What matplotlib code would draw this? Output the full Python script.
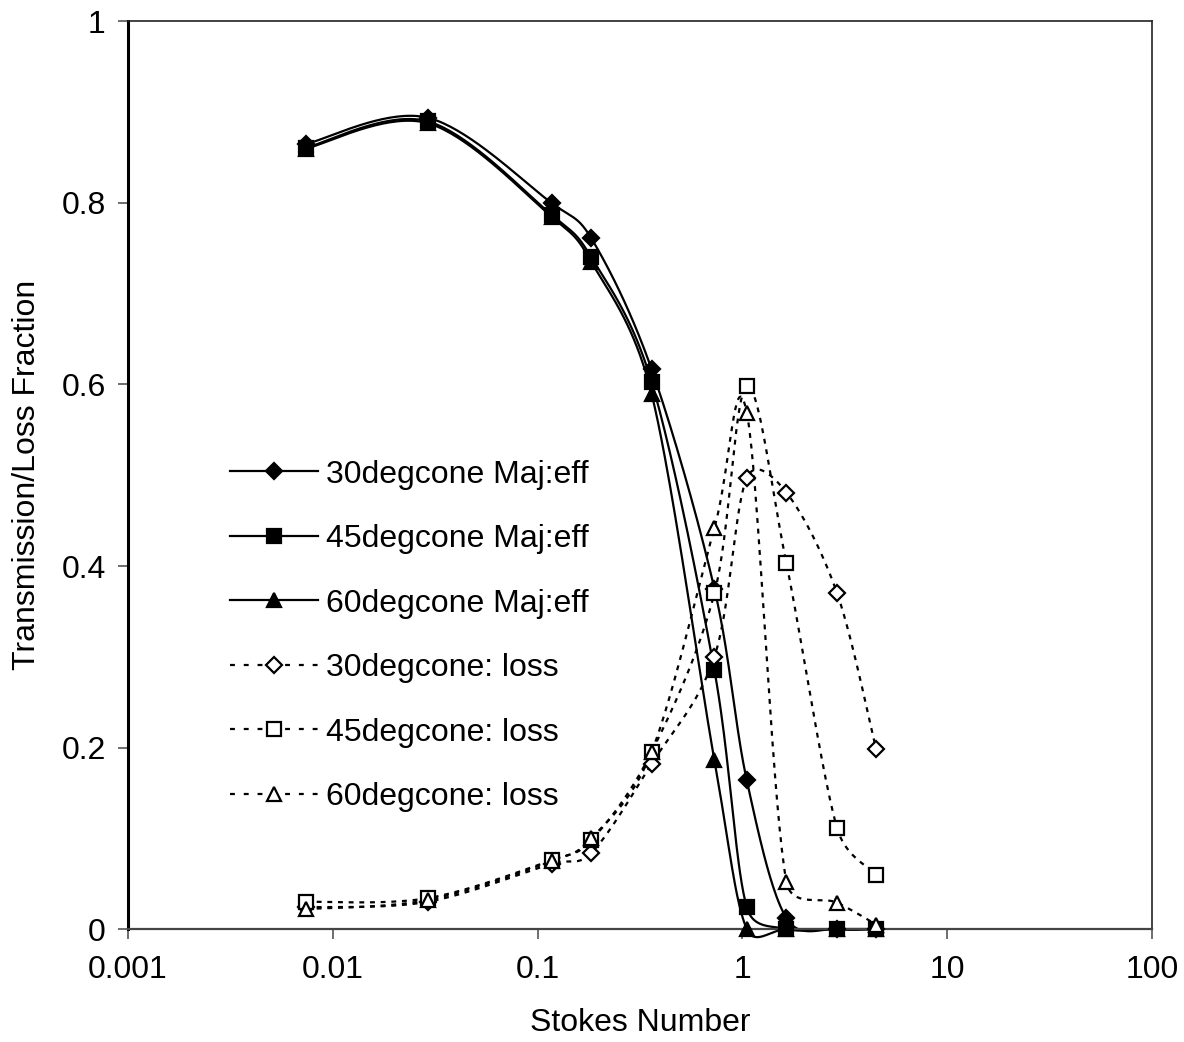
import matplotlib
matplotlib.use('Agg')
import matplotlib.pyplot as plt
import numpy as np
from matplotlib.lines import Line2D

plt.rcParams['font.family'] = ['Liberation Sans', 'DejaVu Sans']

# data
stokes = [0.0074, 0.029, 0.117, 0.183, 0.36, 0.73, 1.05, 1.64, 2.9, 4.5]

eff30 = [0.865, 0.894, 0.800, 0.761, 0.617, 0.375, 0.164, 0.012, 0.0, 0.0]
eff45 = [0.861, 0.890, 0.787, 0.740, 0.603, 0.285, 0.024, 0.0, 0.0, 0.0]
eff60 = [0.860, 0.888, 0.785, 0.735, 0.590, 0.186, 0.0, 0.0, 0.0, 0.0]

loss30 = [0.024, 0.030, 0.072, 0.084, 0.182, 0.300, 0.497, 0.481, 0.370, 0.198]
loss45 = [0.030, 0.034, 0.076, 0.098, 0.195, 0.370, 0.598, 0.403, 0.111, 0.060]
loss60 = [0.022, 0.032, 0.075, 0.100, 0.195, 0.442, 0.569, 0.052, 0.029, 0.005]

labels = ['30degcone Maj:eff', '45degcone Maj:eff', '60degcone Maj:eff',
          '30degcone: loss', '45degcone: loss', '60degcone: loss']

xticks = [0.001, 0.01, 0.1, 1, 10, 100]
xticklabels = ['0.001', '0.01', '0.1', '1', '10', '100']
yticks = [0, 0.2, 0.4, 0.6, 0.8, 1]
yticklabels = ['0', '0.2', '0.4', '0.6', '0.8', '1']


def smooth(x, y, n=40):
    # Excel style smoothed line: Bezier segments, tangent from the neighbours,
    # handle length capped at half the segment (done in screen-like units)
    sx, sy = 205.0, 908.0
    pts = np.column_stack([np.log10(x) * sx, np.asarray(y, float) * sy])
    out = []
    t = np.linspace(0, 1, n)[:, None]
    m = len(pts)
    for i in range(m - 1):
        p0 = pts[max(i - 1, 0)]
        p1 = pts[i]
        p2 = pts[i + 1]
        p3 = pts[min(i + 2, m - 1)]
        d12 = np.hypot(*(p2 - p1))
        d02 = np.hypot(*(p2 - p0))
        d13 = np.hypot(*(p3 - p1))
        f1 = min(1 / 6, d12 / (2 * d02)) if d02 > 0 else 0
        f2 = min(1 / 6, d12 / (2 * d13)) if d13 > 0 else 0
        c1 = p1 + (p2 - p0) * f1
        c2 = p2 - (p3 - p1) * f2
        seg = ((1 - t) ** 3) * p1 + 3 * ((1 - t) ** 2) * t * c1 \
            + 3 * (1 - t) * t ** 2 * c2 + t ** 3 * p2
        out.append(seg if i == 0 else seg[1:])
    seg = np.vstack(out)
    return 10 ** (seg[:, 0] / sx), seg[:, 1] / sy


fig = plt.figure(figsize=(11.84, 10.42), dpi=100)
ax = fig.add_axes([0.1081, 0.1084, 0.8649, 0.871])

series = [eff30, eff45, eff60, loss30, loss45, loss60]
markers = ['D', 's', '^', 'D', 's', '^']
msizes = [8.5, 10, 10, 8.5, 10, 10]
dash = (0, (2.2, 2.6))
handles = []
for k, (ys, mk, ms) in enumerate(zip(series, markers, msizes)):
    ls = '-' if k < 3 else dash
    fc = 'black' if k < 3 else 'white'
    sx, sy = smooth(stokes, ys)
    ax.plot(sx, sy, color='black', lw=1.6, linestyle=ls, zorder=2 + k * 0.1,
            clip_on=False)
    ax.plot(stokes, ys, linestyle='none', marker=mk, ms=ms, mfc=fc,
            mec='black', mew=1.6, zorder=3 + k * 0.1, clip_on=False)
    handles.append(Line2D([], [], color='black', lw=1.6,
                          linestyle='-' if k < 3 else (0, (2.2, 4)),
                          marker=mk, ms=ms, mfc=fc, mec='black', mew=1.6))

ax.set_xscale('log')
ax.set_xlim(0.001, 100)
ax.set_ylim(0, 1)
ax.set_xticks(xticks)
ax.set_xticklabels(xticklabels)
ax.set_yticks(yticks)
ax.set_yticklabels(yticklabels)
ax.xaxis.set_minor_locator(matplotlib.ticker.NullLocator())
ax.tick_params(axis='both', direction='out', length=7, width=1.2,
               labelsize=23, color='#555555')
ax.tick_params(axis='x', pad=12)
ax.tick_params(axis='y', pad=9)

ax.set_xlabel('Stokes Number', fontsize=23, labelpad=16)
ax.set_ylabel('Transmission/Loss Fraction', fontsize=23, labelpad=14)

ax.spines['left'].set_linewidth(2.2)
ax.spines['left'].set_color('black')
ax.spines['bottom'].set_linewidth(1.6)
ax.spines['bottom'].set_color('#444444')
for s in ['top', 'right']:
    ax.spines[s].set_linewidth(1.2)
    ax.spines[s].set_color('#222222')

ax.legend(handles, labels, loc='center left', bbox_to_anchor=(0.0995, 0.323),
          frameon=False, fontsize=23, handlelength=2.75, handletextpad=0.25,
          labelspacing=1.08, borderpad=0, borderaxespad=0)

fig.savefig('out.png', dpi=100)
